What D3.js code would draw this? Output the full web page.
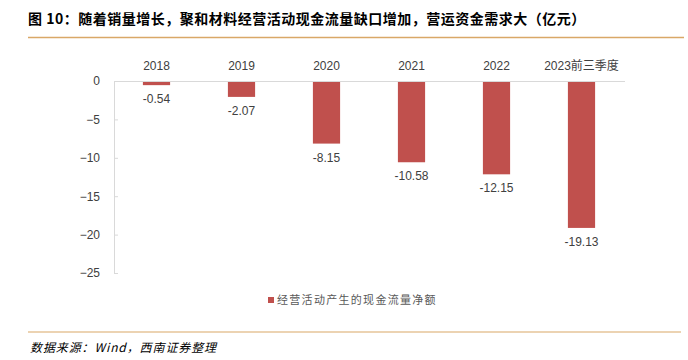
<!DOCTYPE html>
<html><head><meta charset="utf-8">
<script src="https://cdn.jsdelivr.net/npm/d3@7"></script>
<style>body{margin:0;background:#fff}svg{display:block}</style>
</head><body>
<svg id="c" width="688" height="360"></svg>
<script>
const categories = ["2018","2019","2020","2021","2022","2023前三季度"];
const values = [-0.54,-2.07,-8.15,-10.58,-12.15,-19.13];
const yTicks = [0,-5,-10,-15,-20,-25];
const seriesName = "经营活动产生的现金流量净额";
const title = "图 10：随着销量增长，聚和材料经营活动现金流量缺口增加，营运资金需求大（亿元）";
const source = "数据来源：Wind，西南证券整理";

const svg = d3.select("#c");
const font = "'Liberation Sans', Arial, 'Noto Sans CJK SC', sans-serif";
const x = d3.scaleBand().domain(categories).range([114,624]).paddingInner(0.68).paddingOuter(0.34);
const y = d3.scaleLinear().domain([-25,0]).range([273,81]);

// title
svg.append("text").attr("x",28).attr("y",24).attr("font-family","'Noto Sans CJK SC', sans-serif")
  .attr("font-weight","bold").attr("font-size",14).attr("letter-spacing",0.5).attr("fill","#000").text(title);
svg.append("line").attr("x1",28).attr("x2",684).attr("y1",37.5).attr("y2",37.5).attr("stroke","#D9A867").attr("stroke-width",1.5);

// y axis (ticks point inward)
const yAxis = d3.axisLeft(y).tickValues(yTicks).tickSize(-4).tickPadding(14).tickFormat(d3.format("d"));
const ga = svg.append("g").attr("transform","translate(114,0)").call(yAxis);
ga.select(".domain").attr("stroke","#d9d9d9");
ga.selectAll(".tick line").attr("stroke","#d9d9d9");
ga.selectAll(".tick text").attr("font-family",font).attr("font-size",12).attr("fill","#404040");

// bars
svg.selectAll("rect.bar").data(values).join("rect").attr("class","bar")
  .attr("x",(d,i)=>x(categories[i])).attr("width",x.bandwidth())
  .attr("y",y(0)).attr("height",d=>y(d)-y(0)).attr("fill","#C0504D");

// zero line
svg.append("line").attr("x1",114).attr("x2",625).attr("y1",y(0)+0.5).attr("y2",y(0)+0.5).attr("stroke","#d9d9d9");

// category labels (top)
svg.selectAll("text.cat").data(categories).join("text").attr("class","cat")
  .attr("x",d=>x(d)+x.bandwidth()/2).attr("y",70).attr("text-anchor","middle")
  .attr("font-family",font).attr("font-size",12).attr("fill","#404040").text(d=>d);

// value labels
svg.selectAll("text.val").data(values).join("text").attr("class","val")
  .attr("x",(d,i)=>x(categories[i])+x.bandwidth()/2).attr("y",d=>y(d)+18).attr("text-anchor","middle")
  .attr("font-family",font).attr("font-size",12).attr("fill","#404040").text(d=>d.toFixed(2));

// legend
svg.append("rect").attr("x",268).attr("y",297).attr("width",6).attr("height",6).attr("fill","#C0504D");
svg.append("text").attr("x",277).attr("y",304).attr("font-family","'Noto Sans CJK SC', sans-serif")
  .attr("font-size",11).attr("letter-spacing",1.3).attr("fill","#595959").text(seriesName);

// bottom line & source
svg.append("line").attr("x1",28).attr("x2",681).attr("y1",332).attr("y2",332).attr("stroke","#D9A867").attr("stroke-width",1.2);
svg.append("text").attr("x",30).attr("y",352).attr("font-family","'Noto Sans CJK SC', sans-serif")
  .attr("font-style","italic").attr("font-size",12).attr("letter-spacing",0.9).attr("fill","#000").text(source);
</script>
</body></html>
